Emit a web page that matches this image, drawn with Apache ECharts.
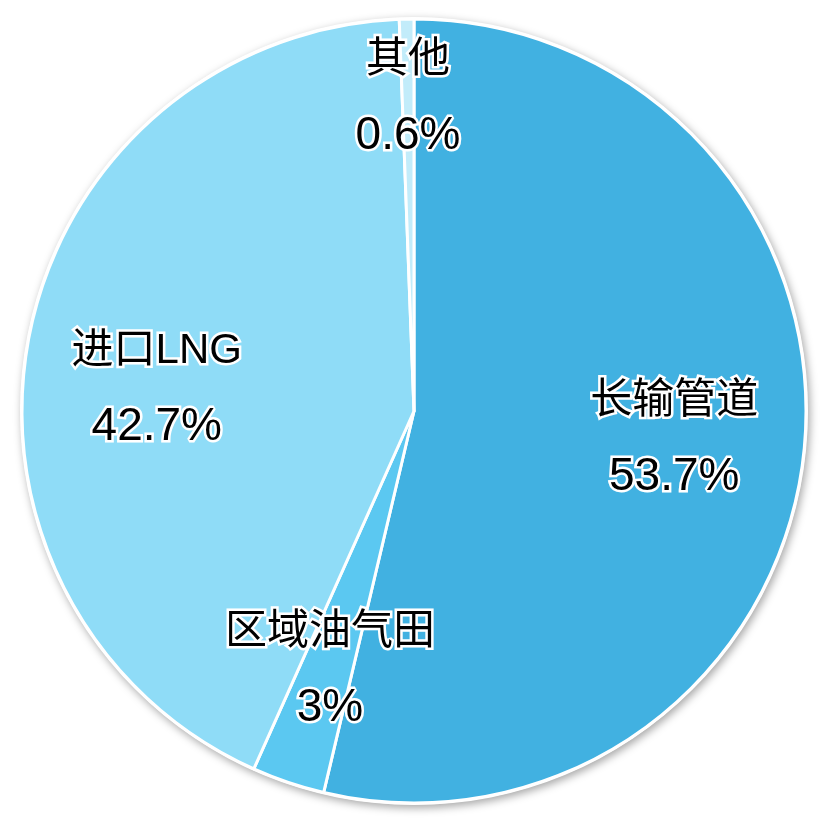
<!DOCTYPE html>
<html><head><meta charset="utf-8">
<script src="https://cdn.jsdelivr.net/npm/echarts@6/dist/echarts.min.js"></script>
<style>html,body{margin:0;padding:0;background:#fff}#c{width:827px;height:827px}</style>
</head><body><div id="c"></div>
<script>
const categories = ['长输管道', '区域油气田', '进口LNG', '其他'];
const values = [53.7, 3, 42.7, 0.6];
const colors = ['#41b1e1', '#5bc8f1', '#8fdcf7', '#c2ecfa'];

// layout only: extra top padding for each label (px)
const labelPadTop = [0, 26, 60, 16];

const center = [414, 411];
const R = 392;
const font = '"Liberation Sans", "Noto Sans CJK SC", sans-serif';

const labelStyle = {
  position: 'inside',
  formatter: '{n|{b}}\n{v|{c}%}',
  rich: {
    n: { fontSize: 42, lineHeight: 72, color: '#000', fontFamily: font, textBorderColor: '#fff', textBorderWidth: 5 },
    v: { fontSize: 46, lineHeight: 80, color: '#000', fontFamily: font, textBorderColor: '#fff', textBorderWidth: 5 }
  }
};

const baseData = categories.map((n, i) => ({ name: n, value: values[i], itemStyle: { color: colors[i] } }));

function labelData(showIdx) {
  return categories.map((n, i) => ({
    name: n, value: values[i],
    itemStyle: { color: 'transparent', borderWidth: 0 },
    label: { show: showIdx(i), padding: [labelPadTop[i], 0, 0, 0] }
  }));
}

const chart = echarts.init(document.getElementById('c'), null, { renderer: 'canvas' });
chart.setOption({
  animation: false,
  series: [
    {
      type: 'pie', center: center, radius: [0, R + 2], silent: true,
      label: { show: false }, labelLine: { show: false },
      itemStyle: { color: '#fff', shadowBlur: 8, shadowOffsetX: 2, shadowOffsetY: 3, shadowColor: 'rgba(0,0,0,0.35)' },
      data: [{ name: 'bg', value: 1 }]
    },
    {
      type: 'pie', center: center, radius: [0, R], startAngle: 90, clockwise: true,
      avoidLabelOverlap: false, silent: true,
      label: { show: false }, labelLine: { show: false },
      itemStyle: { borderColor: '#fff', borderWidth: 3 },
      data: baseData
    },
    {
      type: 'pie', center: center, radius: [126, R], startAngle: 90, clockwise: true,
      avoidLabelOverlap: false, silent: true,
      label: labelStyle, labelLine: { show: false },
      data: labelData(i => i < 3)
    },
    {
      type: 'pie', center: center, radius: [240, R], startAngle: 90, clockwise: true,
      avoidLabelOverlap: false, silent: true,
      label: labelStyle, labelLine: { show: false },
      data: labelData(i => i === 3)
    }
  ]
});
</script></body></html>
